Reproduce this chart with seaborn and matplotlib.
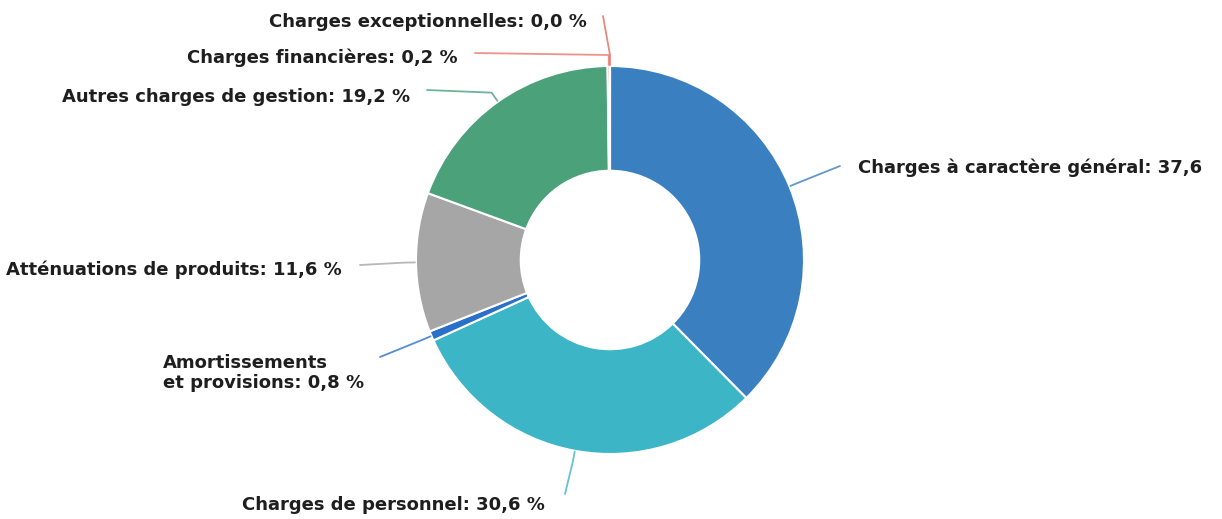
import numpy as np
import matplotlib
matplotlib.use("Agg")
import matplotlib.pyplot as plt
import seaborn as sns

categories = ["Charges à caractère général", "Charges de personnel",
              "Amortissements\net provisions", "Atténuations de produits",
              "Autres charges de gestion", "Charges financières",
              "Charges exceptionnelles"]
values = [37.6, 30.6, 0.8, 11.6, 19.2, 0.2, 0.0]
labels = ["Charges à caractère général: 37,6", "Charges de personnel: 30,6 %",
          "Amortissements\net provisions: 0,8 %", "Atténuations de produits: 11,6 %",
          "Autres charges de gestion: 19,2 %", "Charges financières: 0,2 %",
          "Charges exceptionnelles: 0,0 %"]
colors = ["#3a80c1", "#3cb5c7", "#2a6fc9", "#a6a6a6", "#4ba17a", "#e8786e", "#e06a60"]

# label layout in pixel coords: (text x, text y, ha, connector end x, end y)
label_pos = [(858, 168, "left", 840, 166),
             (545, 505, "right", 565, 494),
             (163, 373, "left", 380, 357),
             (342, 270, "right", 360, 265),
             (410, 97, "right", 427, 90),
             (458, 58, "right", 475, 53),
             (587, 22, "right", 603, 16)]

W, H = 1222, 519
cx, cy, R = 610, 260, 194

sns.set_theme(style="white")
plt.rcParams["font.family"] = ["DejaVu Sans"]

fig = plt.figure(figsize=(W / 100, H / 100), dpi=100)
ax = fig.add_axes([0, 0, 1, 1])

wedges, _ = ax.pie(values, colors=colors, startangle=90, counterclock=False,
                   center=(cx, H - cy), radius=R,
                   wedgeprops=dict(width=R * 0.54, edgecolor="white", linewidth=1.5))
ax.set_xlim(0, W)
ax.set_ylim(0, H)
ax.set_aspect("equal")
ax.axis("off")

for w, lab, (tx, ty, ha, ex, ey), col in zip(wedges, labels, label_pos, colors):
    ang = np.deg2rad((w.theta1 + w.theta2) / 2)
    sx, sy = cx + (R + 1) * np.cos(ang), (H - cy) + (R + 1) * np.sin(ang)
    mx, my = cx + (R + 11) * np.cos(ang), (H - cy) + (R + 11) * np.sin(ang)
    ax.plot([sx, mx, ex], [sy, my, H - ey], color=col, lw=1.3, alpha=0.8,
            solid_capstyle="round")
    ax.text(tx, H - ty, lab, ha=ha, va="center", fontsize=13, fontweight="bold",
            color="#1e1e1e", linespacing=1.2)

fig.savefig("out.png", dpi=100, facecolor="white")
